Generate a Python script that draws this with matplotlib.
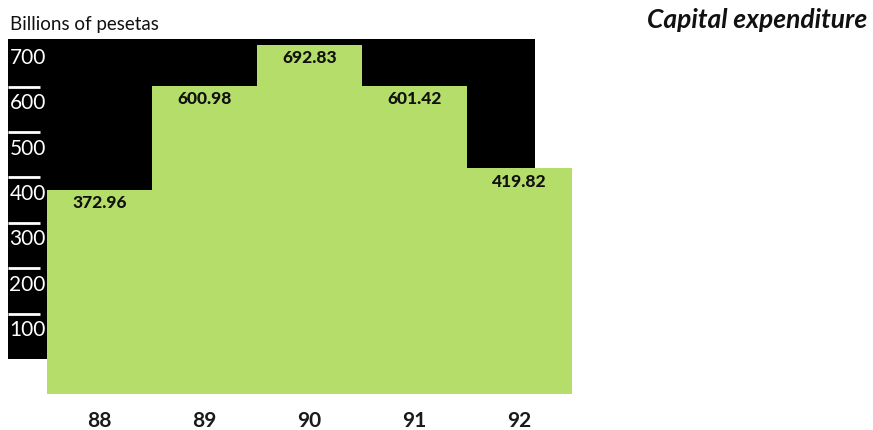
import matplotlib
matplotlib.use("Agg")
import matplotlib.pyplot as plt
from matplotlib.patches import Rectangle
from matplotlib.transforms import blended_transform_factory

# Capital expenditure, billions of pesetas
years = ["88", "89", "90", "91", "92"]
capex = [372.96, 600.98, 692.83, 601.42, 419.82]
scale_ticks = [100, 200, 300, 400, 500, 600, 700]

GREEN = "#b4dd6a"
FONT = ["Lato", "DejaVu Sans"]

W, H, DPI = 873, 431, 100
fig = plt.figure(figsize=(W / DPI, H / DPI), dpi=DPI)
fig.patch.set_facecolor("white")

# plot area in pixels: left 8, right 572, top 40, bottom 395
left_px, right_px, top_px, bot_px = 8, 572, 40, 395
ax = fig.add_axes([left_px / W, 1 - bot_px / H,
                   (right_px - left_px) / W, (bot_px - top_px) / H])
ax.set_axis_off()

x = list(range(len(years)))
bar_w = 1.0
floor = -77          # bars run a little below the zero line
ceiling = 705
strip_w = 0.371      # width of the scale strip left of the first bar
ax.set_xlim(-0.5 - strip_w, len(years) - 0.5)
ax.set_ylim(floor, ceiling)

# black backdrop behind the bars
backdrop_right = 4.148
ax.add_patch(Rectangle((-0.5 - strip_w, 0), backdrop_right + 0.5 + strip_w,
                       ceiling, facecolor="black", edgecolor="none", zorder=1))

# scale marks and labels on the strip
tick_end = -0.5 - 0.067
for v in scale_ticks:
    if v < scale_ticks[-1]:
        ax.hlines(v, -0.5 - strip_w, tick_end, color="white", lw=2, zorder=2)
    ax.annotate(str(v), xy=(-0.5 - strip_w, v), xytext=(1, -4),
                textcoords="offset points", ha="left", va="top",
                color="white", fontsize=15, family=FONT, zorder=3)

# bars
ax.bar(x, [v - floor for v in capex], bottom=floor, width=bar_w,
       color=GREEN, edgecolor="none", zorder=4)

# value labels just under each bar top
for xi, v in zip(x, capex):
    ax.annotate(f"{v:.2f}", xy=(xi, v), xytext=(0, -3),
                textcoords="offset points", ha="center", va="top",
                fontsize=12.5, fontweight="black", family=FONT,
                color="#111111", zorder=5)

# year labels beneath the bars
year_tr = blended_transform_factory(ax.transData, fig.transFigure)
for xi, yr in zip(x, years):
    fig.text(xi, 1 - 421 / H, yr, transform=year_tr, ha="center",
             va="center", fontsize=15, fontweight="bold", family=FONT,
             color="#1a1a1a")

fig.text(10 / W, 1 - 30 / H, "Billions of pesetas", ha="left",
         va="baseline", fontsize=13.5, family=FONT, color="#111111")
fig.text(867 / W, 1 - 28 / H, "Capital expenditure", ha="right",
         va="baseline", fontsize=19, fontweight="bold", fontstyle="italic",
         family=FONT, color="#111111")

fig.savefig("out.png", dpi=DPI, facecolor="white")
